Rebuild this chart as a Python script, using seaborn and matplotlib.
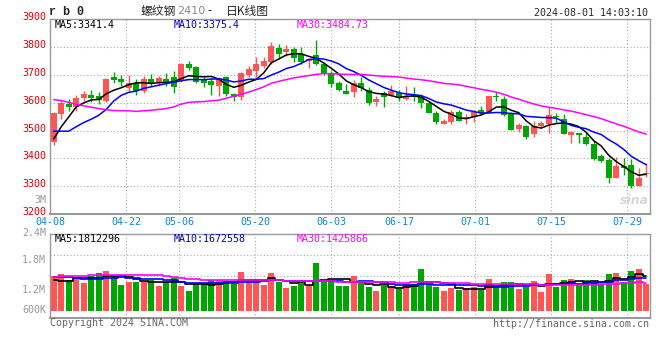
import numpy as np
import pandas as pd
import matplotlib
matplotlib.use("Agg")
import matplotlib.pyplot as plt
import matplotlib.transforms as mtransforms
import seaborn as sns

sns.set_theme(style="white")
plt.rcParams["font.family"] = ["DejaVu Sans", "Noto Sans CJK SC"]

# ---------- daily bars (rb2410, 2024-04-08 .. 2024-08-01) ----------
opens = [3459, 3559, 3597, 3583, 3617, 3629, 3623, 3606, 3693, 3684,
         3654, 3671, 3641, 3684, 3675, 3684, 3691, 3683, 3738, 3728,
         3680, 3678, 3660, 3691, 3632, 3622, 3699, 3713, 3732, 3746,
         3795, 3782, 3793, 3774, 3750, 3770, 3738, 3708, 3669, 3641,
         3639, 3670, 3644, 3601, 3634, 3629, 3635, 3613, 3627, 3621,
         3598, 3563, 3524, 3532, 3565, 3540, 3549, 3573, 3567, 3623,
         3613, 3561, 3507, 3516, 3487, 3517, 3524, 3553, 3541, 3483,
         3490, 3477, 3452, 3409, 3394, 3330, 3373, 3376, 3300, 3344]
highs = [3567, 3609, 3613, 3627, 3642, 3645, 3637, 3688, 3711, 3699,
         3699, 3684, 3695, 3703, 3697, 3705, 3713, 3743, 3749, 3732,
         3691, 3689, 3693, 3696, 3635, 3711, 3732, 3764, 3764, 3816,
         3810, 3806, 3798, 3800, 3761, 3824, 3746, 3713, 3678, 3666,
         3681, 3691, 3656, 3623, 3641, 3662, 3644, 3659, 3656, 3627,
         3606, 3571, 3543, 3573, 3573, 3558, 3573, 3589, 3623, 3637,
         3623, 3567, 3526, 3520, 3536, 3536, 3585, 3564, 3560, 3498,
         3493, 3490, 3464, 3415, 3400, 3404, 3400, 3398, 3365, 3385]
lows = [3447, 3543, 3571, 3570, 3606, 3603, 3594, 3601, 3671, 3660,
        3643, 3627, 3633, 3659, 3659, 3659, 3635, 3675, 3716, 3669,
        3657, 3627, 3623, 3623, 3606, 3609, 3693, 3693, 3725, 3740,
        3757, 3769, 3746, 3740, 3725, 3734, 3699, 3657, 3641, 3632,
        3621, 3641, 3591, 3588, 3585, 3625, 3607, 3610, 3607, 3582,
        3564, 3524, 3523, 3523, 3534, 3523, 3532, 3558, 3564, 3607,
        3552, 3502, 3496, 3471, 3477, 3508, 3492, 3526, 3487, 3456,
        3456, 3450, 3396, 3388, 3311, 3330, 3341, 3293, 3300, 3335]
closes = [3564, 3600, 3585, 3616, 3631, 3617, 3609, 3685, 3682, 3675,
          3672, 3643, 3684, 3671, 3689, 3675, 3657, 3738, 3725, 3675,
          3670, 3663, 3690, 3631, 3622, 3706, 3720, 3738, 3749, 3802,
          3774, 3792, 3762, 3746, 3757, 3738, 3707, 3668, 3646, 3632,
          3669, 3654, 3598, 3613, 3622, 3641, 3617, 3622, 3619, 3600,
          3564, 3530, 3533, 3567, 3535, 3549, 3565, 3564, 3623, 3620,
          3555, 3503, 3520, 3477, 3516, 3529, 3557, 3547, 3487, 3496,
          3486, 3452, 3398, 3392, 3330, 3373, 3365, 3301, 3330, 3349]
volumes = [1795000, 1897000, 1590000, 1726000, 1436000, 1812000, 1949000, 2068000, 1812000, 1333000,
           1504000, 1504000, 1470000, 1590000, 1282000, 1504000, 1709000, 1282000, 1043000, 1419000,
           1368000, 1590000, 1590000, 1419000, 1368000, 2017000, 1538000, 1641000, 1333000, 1966000,
           1504000, 1197000, 1282000, 1419000, 1282000, 2479000, 1504000, 1590000, 1282000, 1282000,
           1795000, 1419000, 1231000, 1026000, 1333000, 1248000, 1162000, 1368000, 1368000, 2154000,
           1368000, 1231000, 1026000, 1179000, 1077000, 1162000, 1248000, 1077000, 1641000, 1282000,
           1487000, 1487000, 1128000, 1231000, 1538000, 974000, 1897000, 1248000, 1590000, 1641000,
           1368000, 1590000, 1504000, 1385000, 1897000, 1966000, 1504000, 2051000, 2154000, 1368000]

# moving-average values at the left edge (their windows start before the chart)
ma5_head = [3470, 3514, 3549, 3585]
ma10_head = [3498, 3498, 3498, 3514, 3529, 3541, 3555, 3576, 3606]
ma30_head = [3611, 3608, 3601, 3594, 3589, 3584, 3579, 3575, 3572, 3571,
             3571, 3569, 3571, 3573, 3576, 3579, 3585, 3595, 3601, 3603,
             3604, 3607, 3609, 3616, 3623, 3631, 3638, 3647, 3657]
vma5_head = [1590000, 1556000, 1540000, 1675000]
vma10_head = [1760000, 1760000, 1744000, 1709000, 1641000, 1641000, 1641000, 1675000, 1709000]
vma30_head = [1761000, 1795000, 1795000, 1795000, 1795000, 1829000, 1846000, 1846000, 1846000, 1846000,
              1846000, 1846000, 1846000, 1846000, 1829000, 1795000, 1744000, 1675000, 1641000, 1624000,
              1590000, 1590000, 1590000, 1575000, 1570000, 1570000, 1570000, 1575000, 1580000]

# latest MA readouts as printed on the chart
price_ma_labels = ["MA5:3341.4", "MA10:3375.4", "MA30:3484.73"]
vol_ma_labels = ["MA5:1812296", "MA10:1672558", "MA30:1425866"]
vol_axis_labels = ["3M", "2.4M", "1.8M", "1.2M", "600K"]

holidays = ["2024-05-01", "2024-05-02", "2024-05-03", "2024-06-10"]
tick_labels = ["04-08", "04-22", "05-06", "05-20", "06-03", "06-17", "07-01", "07-15", "07-29"]

RED = "#ff5555"
GREEN = "#00a600"
GRID = "#aaaaaa"
MA_COLORS = ["black", "#0000ff", "#ff00ff"]
MA_TEXT_COLORS = ["black", "#0000cc", "#ff00ff"]
MONO = "DejaVu Sans Mono"
CJK = ["Noto Sans CJK SC", "DejaVu Sans"]


def moving_average(values, window, head):
    s = pd.Series(values, dtype=float).rolling(window).mean()
    s.iloc[:len(head)] = head
    return s


days = pd.bdate_range("2024-04-08", "2024-08-01")
days = days[~days.isin(pd.to_datetime(holidays))]
n = len(days)
x = np.arange(n)
tick_idx = [days.get_loc(pd.Timestamp("2024-" + t)) for t in tick_labels]
tick_pos = [-0.5 + i * n / (n - 1) for i in tick_idx]

o = np.array(opens, dtype=float)
h = np.array(highs, dtype=float)
l = np.array(lows, dtype=float)
c = np.array(closes, dtype=float)
colors = np.where(c >= o, RED, GREEN)

price_mas = [moving_average(closes, 5, ma5_head),
             moving_average(closes, 10, ma10_head),
             moving_average(closes, 30, ma30_head)]
vol_mas = [moving_average(volumes, 5, vma5_head),
           moving_average(volumes, 10, vma10_head),
           moving_average(volumes, 30, vma30_head)]

W, H = 660, 360
fig = plt.figure(figsize=(W / 100, H / 100), dpi=100)
fig.patch.set_facecolor("white")
ax = fig.add_axes([50 / W, 145.7 / H, 600 / W, 195.3 / H])
axv = fig.add_axes([50 / W, 42.3 / H, 600 / W, 83.7 / H])


def put(px, py, s, **kw):
    kw.setdefault("va", "center")
    kw.setdefault("fontsize", 7.2)
    kw.setdefault("family", MONO)
    fig.text(px / W, 1 - py / H, s, **kw)


def frame(a):
    a.set_facecolor("white")
    a.set_axisbelow(True)
    for side, sp in a.spines.items():
        sp.set_color("#999999")
        sp.set_linewidth(1.5 if side == "bottom" else 1.0)
    a.grid(True, linestyle=(0, (1, 2)), color=GRID, linewidth=0.8)
    a.set_xlim(-0.5, n - 0.5)
    a.set_xticks(tick_pos)
    a.tick_params(length=0)


# ---------- price panel ----------
frame(ax)
ax.vlines(x, l, h, colors=colors, linewidth=1, zorder=2)
ax.bar(x, np.maximum(np.abs(c - o), 3.5), bottom=np.minimum(o, c), width=0.75,
       color=colors, linewidth=0, zorder=3)
for ma, col in zip(price_mas, MA_COLORS):
    sns.lineplot(x=x, y=ma, ax=ax, color=col, linewidth=1.1, zorder=4)
ax.set_ylim(3200, 3900)
ax.set_yticks(range(3200, 3901, 100))
ax.set_xticklabels(tick_labels, color="#0a86d6", fontsize=7.2, family=MONO)
ax.tick_params(axis="x", pad=2.2)
ax.tick_params(axis="y", pad=3, labelcolor="#dd0000", labelsize=7.2)
for lbl in ax.get_yticklabels():
    lbl.set_family(MONO)
    lbl.set_transform(lbl.get_transform() + mtransforms.ScaledTranslation(0, 3 / 100, fig.dpi_scale_trans))
ax.set_xlabel("")
ax.set_ylabel("")

# ---------- volume panel ----------
frame(axv)
axv.bar(x, volumes, width=0.8, color=colors, linewidth=0, zorder=2)
for ma, col in zip(vol_mas, MA_COLORS):
    sns.lineplot(x=x, y=ma, ax=axv, color=col, linewidth=1.2, drawstyle="steps-mid", zorder=3)
vlo, vhi = -0.343e6, 3.95e6
axv.set_ylim(vlo, vhi)
axv.set_yticks(np.linspace(vlo, vhi, 5)[1:-1])
axv.set_yticklabels([])
axv.set_xticklabels([])
axv.set_xlabel("")
axv.set_ylabel("")

# ---------- texts ----------
put(49, 12, "r b 0", ha="left", fontsize=8.5, fontweight="bold", family="Liberation Mono")
put(141, 11, "螺纹钢", ha="left", fontsize=8.5, family=CJK)
put(177, 11.5, "2410", ha="left", fontsize=8, color="#888888", family="DejaVu Sans")
put(207, 11, "-", ha="left", fontsize=8.5, family=CJK)
put(226, 11, "日K线图", ha="left", fontsize=8.5, family=CJK)
put(648, 12.5, "2024-08-01 14:03:10", ha="right")

for px, s, col in zip([55, 174, 297], price_ma_labels, MA_TEXT_COLORS):
    put(px, 24.5, s, ha="left", color=col)
for px, s, col in zip([55, 174, 297], vol_ma_labels, MA_TEXT_COLORS):
    put(px, 239, s, ha="left", color=col)

for lbl, py in zip(vol_axis_labels, [200, 232.5, 260, 290, 310]):
    put(46, py, lbl, ha="right", color="#999999")

put(50, 323, "Copyright 2024 SINA.COM", ha="left", color="#666666")
put(649, 324, "http://finance.sina.com.cn", ha="right", color="#666666")
put(634, 200, "sina", ha="center", fontsize=9, color="#d8d8d8", style="italic",
    fontweight="bold", family="DejaVu Sans")

fig.savefig("out.png", dpi=100, facecolor="white")
